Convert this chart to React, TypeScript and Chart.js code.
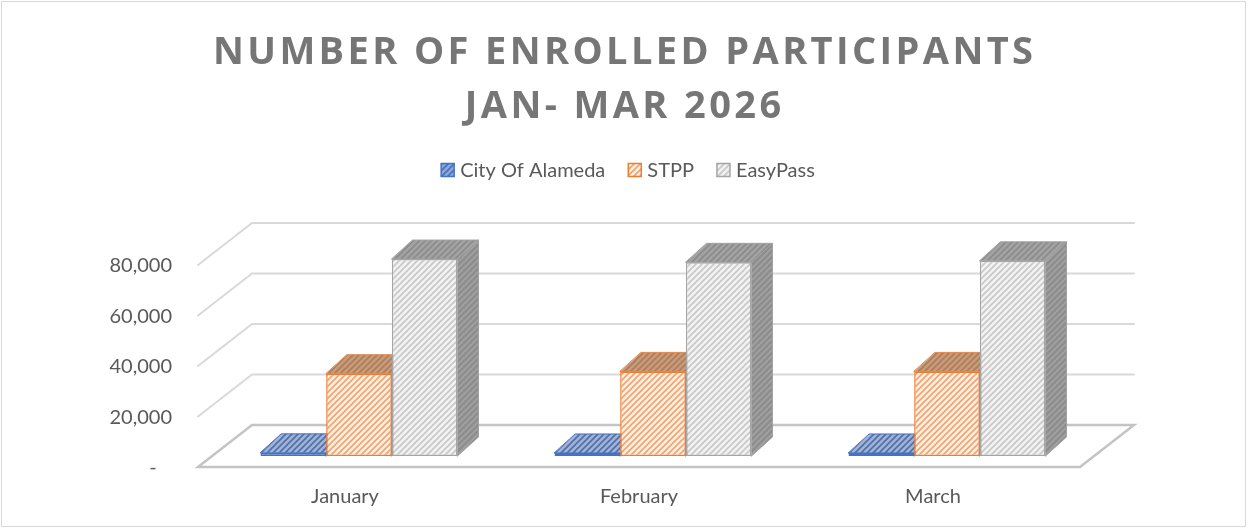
import React, { useEffect, useRef } from 'react';
import { Chart, registerables } from 'chart.js';

Chart.register(...registerables);

// ---- data ----
const categories = ['January', 'February', 'March'];
const seriesNames = ['City Of Alameda', 'STPP', 'EasyPass'];
const cityOfAlameda = [1250, 1200, 1200];
const stpp = [32600, 33500, 33500];
const easyPass = [78000, 76700, 77300];
const yTickValues = [0, 20000, 40000, 60000, 80000];
const titleLines = ['NUMBER OF ENROLLED PARTICIPANTS', 'JAN- MAR 2026'];

// ---- styles ----
const FONT = 'Lato, "Open Sans", sans-serif';
const TITLE_FONT = '"Open Sans", Lato, sans-serif';
const TEXT_COLOR = '#595959';
const TITLE_COLOR = '#767676';
const FRONT = { dx: -14, dy: 11 };
const BACK = { dx: 40, dy: -31 };
const DEPTH = { dx: 21, dy: -19 };

type Style = {
  border: string;
  front: [string, string];
  top: [string, string];
  side: [string, string];
  edge: string;
};
const styles: Style[] = [
  { border: '#4472C4', front: ['#8fa8d6', '#4472C4'], top: ['#a3b3d0', '#4d6fae'], side: ['#6f88b8', '#4a67a0'], edge: '#4472C4' },
  { border: '#ED7D31', front: ['#fdf1e8', '#f3a26c'], top: ['#cf9a73', '#a57e64'], side: ['#c98a5e', '#a87050'], edge: '#e08a50' },
  { border: '#A5A5A5', front: ['#f2f2f2', '#c8c8c8'], top: ['#a3a3a3', '#8b8b8b'], side: ['#8e8e8e', '#a2a2a2'], edge: '#a0a0a0' },
];

function makePattern(ctx: CanvasRenderingContext2D, bg: string, fg: string): CanvasPattern | string {
  const s = 6;
  const c = document.createElement('canvas');
  c.width = s;
  c.height = s;
  const g = c.getContext('2d');
  if (!g) return bg;
  g.fillStyle = bg;
  g.fillRect(0, 0, s, s);
  g.strokeStyle = fg;
  g.lineWidth = 1.6;
  g.beginPath();
  g.moveTo(-1, s + 1);
  g.lineTo(s + 1, -1);
  g.moveTo(-s / 2 - 1, s / 2 + 1);
  g.lineTo(s / 2 + 1, -s / 2 - 1);
  g.moveTo(s / 2 - 1, s * 1.5 + 1);
  g.lineTo(s * 1.5 + 1, s / 2 - 1);
  g.stroke();
  return ctx.createPattern(c, 'repeat') || bg;
}

function poly(ctx: CanvasRenderingContext2D, pts: number[][], fill: any, stroke: string, lw: number) {
  ctx.beginPath();
  ctx.moveTo(pts[0][0], pts[0][1]);
  for (let i = 1; i < pts.length; i++) ctx.lineTo(pts[i][0], pts[i][1]);
  ctx.closePath();
  if (fill) {
    ctx.fillStyle = fill;
    ctx.fill();
  }
  if (stroke) {
    ctx.strokeStyle = stroke;
    ctx.lineWidth = lw;
    ctx.stroke();
  }
}

export default function App() {
  const canvasRef = useRef<HTMLCanvasElement | null>(null);

  useEffect(() => {
    const canvas = canvasRef.current;
    if (!canvas) return;
    const ctx0 = canvas.getContext('2d') as CanvasRenderingContext2D;
    const pats = styles.map((s) => ({
      front: makePattern(ctx0, s.front[0], s.front[1]),
      top: makePattern(ctx0, s.top[0], s.top[1]),
      side: makePattern(ctx0, s.side[0], s.side[1]),
    }));

    const threeD = {
      id: 'threeD',
      beforeDatasetsDraw(chart: any) {
        const { ctx, chartArea } = chart;
        const { left, right } = chartArea;
        const y = chart.scales.y;
        ctx.save();
        ctx.lineCap = 'round';
        // walls: gridlines on back wall and left wall
        ctx.strokeStyle = '#d9d9d9';
        ctx.lineWidth = 2;
        yTickValues.forEach((v) => {
          if (v === 0) return;
          const py = y.getPixelForValue(v);
          ctx.beginPath();
          ctx.moveTo(left + FRONT.dx, py + FRONT.dy);
          ctx.lineTo(left + BACK.dx, py + BACK.dy);
          ctx.lineTo(right + BACK.dx, py + BACK.dy);
          ctx.stroke();
        });
        // floor
        const y0 = y.getPixelForValue(0);
        poly(
          ctx,
          [
            [left + FRONT.dx, y0 + FRONT.dy],
            [right + FRONT.dx, y0 + FRONT.dy],
            [right + BACK.dx, y0 + BACK.dy],
            [left + BACK.dx, y0 + BACK.dy],
          ],
          '#ffffff',
          '#c4c4c4',
          2.5
        );
        // 3D faces (side + top) of every bar, drawn before the front faces
        for (let d = 0; d < chart.data.datasets.length; d++) {
          const meta = chart.getDatasetMeta(d);
          const st = styles[d];
          const p = pats[d];
          meta.data.forEach((bar: any) => {
            const { x, y: top, base, width } = bar.getProps(['x', 'y', 'base', 'width'], true);
            const l = x - width / 2;
            const r = x + width / 2;
            poly(
              ctx,
              [
                [r, top],
                [r + DEPTH.dx, top + DEPTH.dy],
                [r + DEPTH.dx, base + DEPTH.dy],
                [r, base],
              ],
              p.side,
              st.edge,
              1
            );
            poly(
              ctx,
              [
                [l, top],
                [r, top],
                [r + DEPTH.dx, top + DEPTH.dy],
                [l + DEPTH.dx, top + DEPTH.dy],
              ],
              p.top,
              st.edge,
              1
            );
          });
        }
        ctx.restore();
      },
      afterDraw(chart: any) {
        const { ctx, width } = chart;
        ctx.save();
        // border
        ctx.strokeStyle = '#d9d9d9';
        ctx.lineWidth = 1;
        ctx.strokeRect(1.5, 1.5, width - 4, 525);

        // title with letter spacing
        ctx.fillStyle = TITLE_COLOR;
        ctx.font = `bold 38px ${TITLE_FONT}`;
        ctx.textBaseline = 'alphabetic';
        ctx.textAlign = 'left';
        (ctx as any).letterSpacing = '0px';
        const w0 = ctx.measureText(titleLines[0]).width;
        const spacing = Math.max(0, (820 - w0) / (titleLines[0].length - 1));
        const cx = 623;
        const baselines = [64, 118];
        titleLines.forEach((line, i) => {
          (ctx as any).letterSpacing = '0px';
          const w = ctx.measureText(line).width + spacing * (line.length - 1);
          (ctx as any).letterSpacing = `${spacing}px`;
          ctx.fillText(line, cx - w / 2, baselines[i]);
        });
        (ctx as any).letterSpacing = '0px';

        // legend
        ctx.font = `20px ${FONT}`;
        ctx.textBaseline = 'middle';
        const box = 13;
        const gapBoxText = 6;
        const gapItems = 23;
        const widths = seriesNames.map((n) => ctx.measureText(n).width);
        const total =
          widths.reduce((a, b) => a + b, 0) + seriesNames.length * (box + gapBoxText) + gapItems * (seriesNames.length - 1);
        let lx = 628 - total / 2;
        const ly = 170;
        seriesNames.forEach((n, i) => {
          poly(
            ctx,
            [
              [lx, ly - box / 2],
              [lx + box, ly - box / 2],
              [lx + box, ly + box / 2],
              [lx, ly + box / 2],
            ],
            pats[i].front,
            styles[i].border,
            1.5
          );
          ctx.fillStyle = TEXT_COLOR;
          ctx.fillText(n, lx + box + gapBoxText, ly + 1);
          lx += box + gapBoxText + widths[i] + gapItems;
        });
        ctx.restore();
      },
    };

    const series = [cityOfAlameda, stpp, easyPass];
    const chart = new Chart(canvas, {
      type: 'bar',
      data: {
        labels: categories,
        datasets: series.map((data, i) => ({
          label: seriesNames[i],
          data,
          backgroundColor: pats[i].front as any,
          borderColor: styles[i].border,
          borderWidth: 1.5,
          borderSkipped: false,
          categoryPercentage: 0.67,
          barPercentage: 1.0,
          clip: false as any,
        })),
      },
      options: {
        responsive: false,
        animation: false,
        devicePixelRatio: 1,
        layout: { padding: { left: 108, right: 154, top: 254, bottom: 13 } },
        plugins: {
          legend: { display: false },
          title: { display: false },
          tooltip: { enabled: false },
        },
        scales: {
          x: {
            grid: { display: false, drawTicks: false },
            border: { display: false },
            ticks: {
              color: TEXT_COLOR,
              font: { family: FONT, size: 20 },
              padding: 29,
              labelOffset: -14,
              maxRotation: 0,
            },
            afterFit: (scale: any) => {
              scale.height = 60;
            },
          },
          y: {
            min: 0,
            max: 80000,
            grid: { display: false, drawTicks: false },
            border: { display: false },
            ticks: {
              stepSize: 20000,
              color: TEXT_COLOR,
              font: { family: FONT, size: 20 },
              padding: 40,
              labelOffset: 12,
              callback: (v: any) => (Number(v) === 0 ? '-   ' : Number(v).toLocaleString('en-US')),
            },
            afterFit: (scale: any) => {
              scale.width = 104;
            },
          },
        },
      },
      plugins: [threeD],
    });
    return () => chart.destroy();
  }, []);

  return (
    <div style={{ position: 'fixed', left: 0, top: 0, width: 1248, height: 529, background: '#ffffff' }}>
      <canvas ref={canvasRef} width={1248} height={529} style={{ display: 'block' }} />
    </div>
  );
}
